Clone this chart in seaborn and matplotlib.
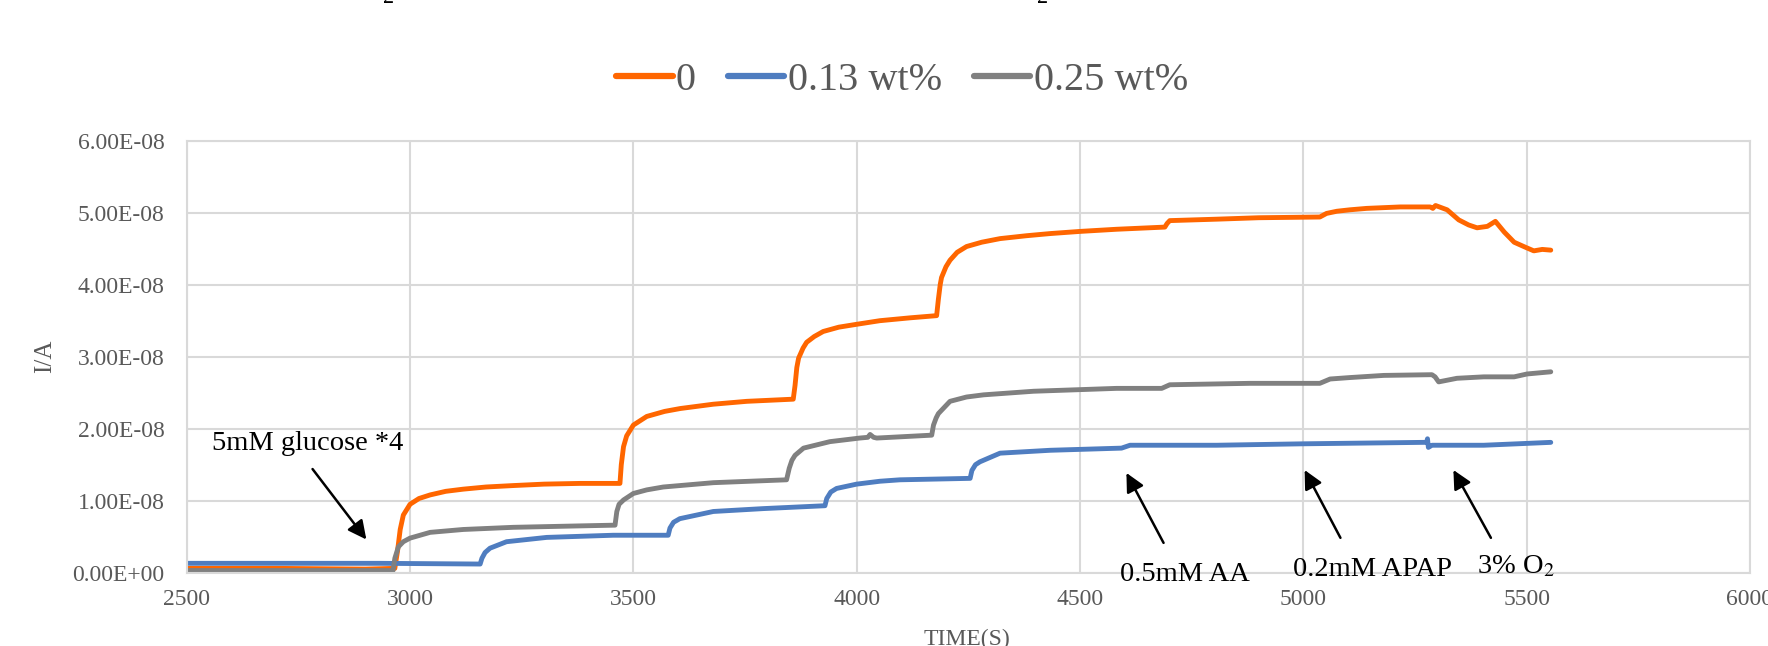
import numpy as np
import pandas as pd
import matplotlib
matplotlib.use("Agg")
import matplotlib.pyplot as plt
from matplotlib.ticker import FuncFormatter, MultipleLocator
import seaborn as sns

# series (time in s, current in units of 1e-8 A)
t_0 = [2500, 2700, 2900, 2966, 2972, 2978, 2985, 3000, 3020, 3045, 3080, 3119, 3170, 3231,
       3300, 3381, 3470, 3473, 3478, 3485, 3500, 3530, 3570, 3605, 3679, 3754, 3858, 3862,
       3866, 3870, 3880, 3888, 3905, 3925, 3960, 4000, 4052, 4120, 4179, 4183, 4187, 4190,
       4200, 4209, 4225, 4246, 4280, 4321, 4380, 4433, 4500, 4582, 4690, 4695, 4701, 4806,
       4900, 5037, 5052, 5075, 5104, 5142, 5217, 5284, 5290, 5296, 5322, 5348, 5370, 5389,
       5412, 5430, 5450, 5472, 5490, 5501, 5516, 5535, 5554]
i_0 = [0.06, 0.06, 0.05, 0.06, 0.30, 0.60, 0.80, 0.95, 1.03, 1.08, 1.13, 1.16, 1.19, 1.21,
       1.23, 1.24, 1.24, 1.50, 1.75, 1.90, 2.05, 2.17, 2.24, 2.28, 2.34, 2.38, 2.41, 2.60,
       2.85, 2.98, 3.12, 3.20, 3.28, 3.35, 3.41, 3.45, 3.50, 3.54, 3.57, 3.80, 4.00, 4.10,
       4.25, 4.34, 4.45, 4.53, 4.59, 4.64, 4.68, 4.71, 4.74, 4.77, 4.80, 4.85, 4.89, 4.91,
       4.93, 4.94, 4.99, 5.02, 5.04, 5.06, 5.08, 5.08, 5.06, 5.10, 5.04, 4.90, 4.83, 4.79,
       4.81, 4.88, 4.73, 4.59, 4.54, 4.51, 4.47, 4.49, 4.48]

t_13 = [2500, 2933, 3157, 3161, 3168, 3179, 3216, 3306, 3455, 3578, 3582, 3590, 3604, 3679,
        3791, 3929, 3933, 3942, 3955, 4000, 4052, 4097, 4254, 4258, 4266, 4276, 4321, 4433,
        4593, 4612, 4806, 5000, 5269, 5276, 5278, 5280, 5288, 5404, 5554]
i_13 = [0.13, 0.13, 0.12, 0.20, 0.28, 0.34, 0.43, 0.49, 0.52, 0.52, 0.62, 0.70, 0.75, 0.85,
        0.89, 0.93, 1.03, 1.12, 1.17, 1.23, 1.27, 1.29, 1.31, 1.42, 1.50, 1.54, 1.66, 1.70,
        1.73, 1.77, 1.77, 1.79, 1.81, 1.81, 1.86, 1.74, 1.77, 1.77, 1.81]

t_25 = [2500, 2900, 2962, 2966, 2974, 2985, 3000, 3045, 3119, 3231, 3381, 3459, 3463, 3468,
        3478, 3500, 3530, 3567, 3679, 3843, 3849, 3855, 3862, 3881, 3940, 4007, 4025, 4030,
        4038, 4045, 4168, 4172, 4178, 4183, 4209, 4246, 4284, 4396, 4582, 4683, 4701, 4881,
        5037, 5060, 5104, 5180, 5288, 5295, 5303, 5344, 5404, 5472, 5501, 5554]
i_25 = [0.03, 0.03, 0.03, 0.20, 0.36, 0.43, 0.48, 0.56, 0.60, 0.63, 0.65, 0.66, 0.85, 0.95,
        1.01, 1.10, 1.15, 1.19, 1.25, 1.29, 1.45, 1.56, 1.63, 1.73, 1.82, 1.87, 1.88, 1.92,
        1.88, 1.87, 1.91, 2.05, 2.15, 2.21, 2.38, 2.44, 2.47, 2.52, 2.56, 2.56, 2.61, 2.63,
        2.63, 2.69, 2.71, 2.74, 2.75, 2.72, 2.65, 2.70, 2.72, 2.72, 2.76, 2.79]

series_names = ["0", "0.13 wt%", "0.25 wt%"]
series_colors = ["#FF6600", "#4F7DC0", "#808080"]

# annotations: (label, text x, text y, arrow tail x, tail y, arrow head x, head y), y in 1e-8
notes = [
    ("5mM glucose *4", 2557, 1.79, 2778, 1.47, 2906, 0.43),
    ("0.5mM AA", 4735, -0.03, 4690, 0.38, 4601, 1.42),
    ("0.2mM APAP", 5156, 0.05, 5086, 0.45, 5000, 1.46),
    ("3% O$_2$", 5475, 0.08, 5423, 0.45, 5333, 1.46),
]

frames = []
for name, t, i in [(series_names[0], t_0, i_0), (series_names[1], t_13, i_13),
                   (series_names[2], t_25, i_25)]:
    frames.append(pd.DataFrame({"time": t, "current": np.array(i) * 1e-8, "series": name}))
df = pd.concat(frames, ignore_index=True)

sns.set_style("whitegrid", {"grid.color": "#D9D9D9", "axes.edgecolor": "#D9D9D9"})
plt.rcParams["font.family"] = ["Liberation Serif", "DejaVu Serif"]
plt.rcParams["mathtext.fontset"] = "stix"

fig = plt.figure(figsize=(17.68, 6.46), dpi=100)
ax = fig.add_axes([0.1056, 0.1135, 0.8842, 0.6687])

sns.lineplot(data=df, x="time", y="current", hue="series", hue_order=series_names,
             palette=series_colors, linewidth=3.5, sort=False, estimator=None, ax=ax)

ax.set_xlim(2500, 6000)
ax.set_ylim(0, 6e-8)
ax.xaxis.set_major_locator(MultipleLocator(500))
ax.yaxis.set_major_locator(MultipleLocator(1e-8))
ax.yaxis.set_major_formatter(FuncFormatter(lambda v, p: f"{v:.2E}"))
ax.grid(True, color="#D9D9D9", linewidth=1.5)
for s in ax.spines.values():
    s.set_color("#D9D9D9")
    s.set_linewidth(1.5)
ax.tick_params(axis="both", length=0, labelsize=17, labelcolor="#595959")
ax.tick_params(axis="y", pad=16)
ax.tick_params(axis="x", pad=12)
ax.set_ylabel("I/A", fontsize=18, color="#595959", labelpad=12)
ax.set_xlabel("")
fig.text(967 / 1768, 1 - 629 / 646, "TIME(S)", fontsize=17, color="#595959",
         ha="center", va="top")

for label, tx, ty, x0, y0, x1, y1 in notes:
    ax.annotate("", xy=(x1, y1 * 1e-8), xytext=(x0, y0 * 1e-8),
                arrowprops=dict(arrowstyle="-|>", color="black", lw=1.8, mutation_scale=28))
    ha = "left" if label.startswith("5mM") else "center"
    ax.text(tx, ty * 1e-8, label, fontsize=20.5, color="black", ha=ha, va="center",
            clip_on=False, zorder=5)

sns.move_legend(ax, "center", bbox_to_anchor=(902 / 1768, 1 - 80 / 646),
                bbox_transform=fig.transFigure, ncol=3, frameon=False, title=None,
                fontsize=29, handlelength=1.4, handletextpad=0.08, columnspacing=0.8,
                labelcolor="#595959")
for line in ax.get_legend().get_lines():
    line.set_linewidth(4.5)

# remnants of the cut-off title at the very top
for x in [389, 1043]:
    fig.text(x / 1768, 1 - 3 / 646, "2", fontsize=16, color="black",
             ha="center", va="baseline")

fig.savefig("out.png", dpi=100)
